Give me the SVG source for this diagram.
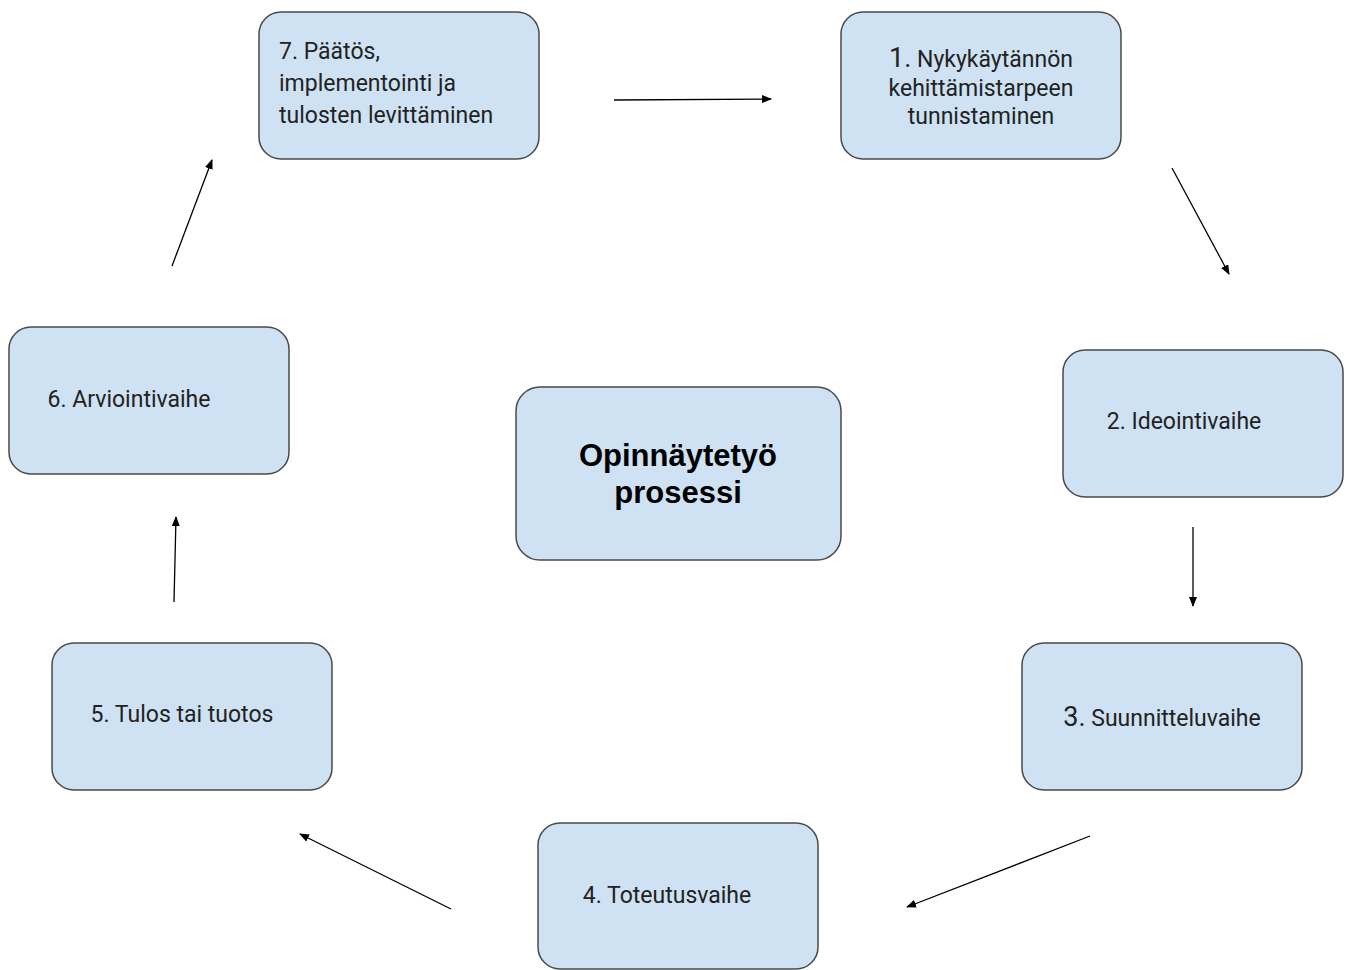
<svg xmlns="http://www.w3.org/2000/svg" width="1349" height="970" viewBox="0 0 1349 970">
<style>
.box{fill:#cfe2f3;stroke:#4a4a4a;stroke-width:1.5}
.t{font-family:Roboto,"Liberation Sans",sans-serif;font-size:23px;fill:#222}
.c{text-anchor:middle}
.big{font-size:27px}
.title{font-family:"Liberation Sans",Arial,sans-serif;font-weight:bold;font-size:31px;fill:#000;text-anchor:middle}
.conn line{stroke:#000;stroke-width:1.3;marker-end:url(#ah)}
</style>
<defs>
<marker id="ah" markerWidth="10" markerHeight="8" refX="9" refY="4" orient="auto" markerUnits="userSpaceOnUse">
<path d="M0,0 L10,4 L0,8 Z" fill="#000"/>
</marker>
</defs>
<rect width="1349" height="970" fill="#fff"/>
<g id="node7"><rect class="box" x="259" y="12" width="280" height="147" rx="22"/>
<text class="t" x="279" y="59">7. Päätös,</text>
<text class="t" x="279" y="91">implementointi ja</text>
<text class="t" x="279" y="123">tulosten levittäminen</text></g>
<g id="node1"><rect class="box" x="841" y="12" width="280" height="147" rx="22"/>
<text class="t c" x="981" y="67"><tspan class="big">1.</tspan> Nykykäytännön</text>
<text class="t c" x="981" y="96">kehittämistarpeen</text>
<text class="t c" x="981" y="124">tunnistaminen</text></g>
<g id="node2"><rect class="box" x="1063" y="350" width="280" height="147" rx="22"/>
<text class="t c" x="1184" y="429">2. Ideointivaihe</text></g>
<g id="node3"><rect class="box" x="1022" y="643" width="280" height="147" rx="22"/>
<text class="t c" x="1162" y="726"><tspan class="big">3.</tspan> Suunnitteluvaihe</text></g>
<g id="node4"><rect class="box" x="538" y="823" width="280" height="146" rx="22"/>
<text class="t c" x="667" y="903">4. Toteutusvaihe</text></g>
<g id="node5"><rect class="box" x="52" y="643" width="280" height="147" rx="22"/>
<text class="t c" x="182" y="722">5. Tulos tai tuotos</text></g>
<g id="node6"><rect class="box" x="9" y="327" width="280" height="147" rx="22"/>
<text class="t c" x="129" y="407">6. Arviointivaihe</text></g>
<g id="center"><rect class="box" x="516" y="387" width="325" height="173" rx="24"/>
<text class="title" x="678" y="466">Opinnäytetyö</text>
<text class="title" x="678" y="503">prosessi</text></g>
<g id="connectors" class="conn">
<line x1="614" y1="100" x2="771" y2="99"/>
<line x1="1172" y1="168" x2="1229" y2="274"/>
<line x1="1193" y1="527" x2="1193" y2="606"/>
<line x1="1090" y1="836" x2="907" y2="907"/>
<line x1="451" y1="909" x2="300" y2="834"/>
<line x1="174" y1="602" x2="176" y2="517"/>
<line x1="172" y1="266" x2="212" y2="160"/>
</g>
</svg>
